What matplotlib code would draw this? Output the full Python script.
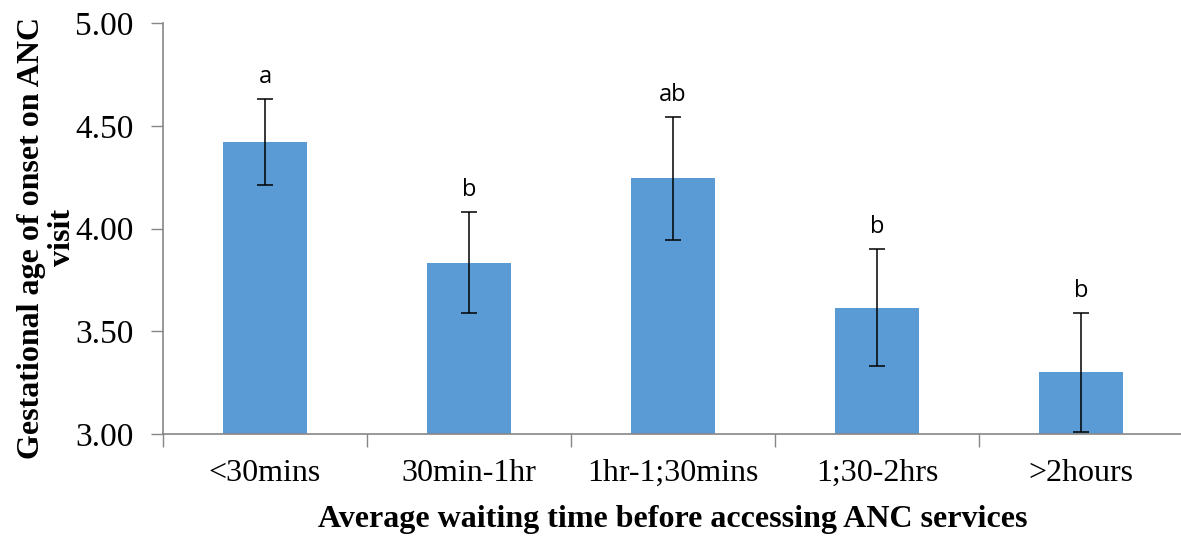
import matplotlib.pyplot as plt
import numpy as np

categories = ['<30mins', '30min-1hr', '1hr-1;30mins', '1;30-2hrs', '>2hours']
means = [4.42, 3.835, 4.245, 3.615, 3.30]
errors = [0.21, 0.245, 0.30, 0.285, 0.29]
letters = ['a', 'b', 'ab', 'b', 'b']
y_ticks = [3.00, 3.50, 4.00, 4.50, 5.00]

serif = ['Liberation Serif', 'DejaVu Serif']

fig = plt.figure(figsize=(11.81, 5.36), dpi=100)
ax = fig.add_axes([0.138, 0.190, 0.8637, 0.767])

x = np.arange(len(categories))
ax.bar(x, means, width=0.41, color='#5B9BD5', zorder=2)
ax.errorbar(x, means, yerr=errors, fmt='none', ecolor='black',
            elinewidth=1.1, capsize=6, capthick=1.1, zorder=3)

for xi, m, e, lab in zip(x, means, errors, letters):
    ax.annotate(lab, (xi, m + e), xytext=(0, 7), textcoords='offset points',
                ha='center', va='bottom', fontsize=17, family='Open Sans')

ax.set_xlim(-0.5, len(categories) - 0.5)
ax.set_ylim(3.0, 5.0)
ax.set_yticks(y_ticks)
ax.set_yticklabels([f'{v:.2f}' for v in y_ticks], family=serif, fontsize=24)
ax.set_xticks(x)
ax.set_xticklabels(categories, family=serif, fontsize=23)
ax.set_xticks(np.arange(-0.5, len(categories)), minor=True)
ax.tick_params(axis='x', which='major', length=0, pad=18)
ax.tick_params(axis='x', which='minor', length=9, color='#868686', width=1)
ax.tick_params(axis='y', length=9, color='#868686', width=1, pad=12)

for side in ['top', 'right']:
    ax.spines[side].set_visible(False)
for side in ['left', 'bottom']:
    ax.spines[side].set_color('#868686')
    ax.spines[side].set_linewidth(1.2)

ax.set_xlabel('Average waiting time before accessing ANC services',
              family=serif, fontsize=23, fontweight='bold', labelpad=12)
ax.set_ylabel('Gestational age of onset on ANC\nvisit', family=serif,
              fontsize=23, fontweight='bold', linespacing=1.1)
ax.yaxis.set_label_coords(-0.084, 0.478)

fig.savefig('out.png', dpi=100)
